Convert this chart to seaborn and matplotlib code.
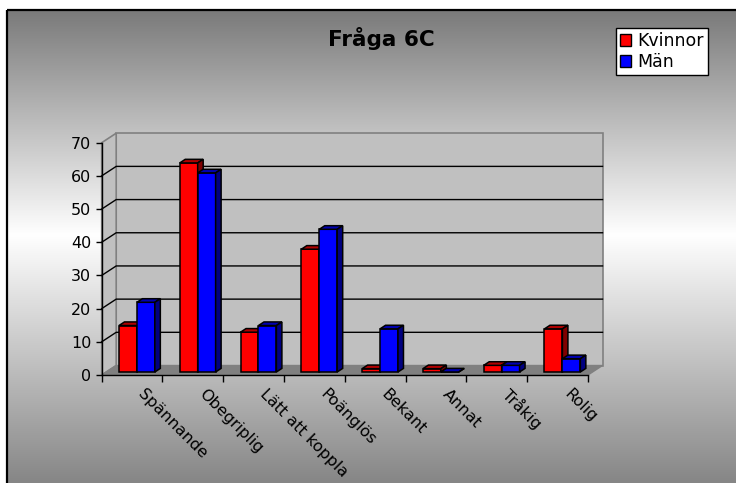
import numpy as np
import pandas as pd
import matplotlib
matplotlib.use("Agg")
import matplotlib.pyplot as plt
import seaborn as sns
from matplotlib.patches import Polygon, Patch

# ---- data -------------------------------------------------------------
categories = ["Spännande", "Obegriplig", "Lätt att koppla", "Poänglös",
              "Bekant", "Annat", "Tråkig", "Rolig"]
series = ["Kvinnor", "Män"]
kvinnor = [14, 63, 12, 37, 1, 1, 2, 13]
man = [21, 60, 14, 43, 13, 0, 2, 4]
y_ticks = [0, 10, 20, 30, 40, 50, 60, 70]
title = "Fråga 6C"

df = pd.DataFrame({
    "Kategori": categories * 2,
    "Serie": [series[0]] * len(categories) + [series[1]] * len(categories),
    "Antal": kvinnor + man,
})

front = {"Kvinnor": "#ff0000", "Män": "#0000ff"}
topc = {"Kvinnor": "#b00000", "Män": "#0000b0"}
sidec = {"Kvinnor": "#800000", "Män": "#000080"}

# ---- figure & gradient background ------------------------------------
W, H, DPI = 736, 483, 100
fig = plt.figure(figsize=(W / DPI, H / DPI), dpi=DPI)
fig.patch.set_facecolor("white")

bg = fig.add_axes([0, 0, 1, 1], zorder=-10)
ys = np.arange(10, H + 1, dtype=float)
g_top, g_mid, g_bot, y_mid = 122, 255, 134, 235
g = np.where(ys < y_mid,
             g_top + (g_mid - g_top) * (ys - 10) / (y_mid - 10),
             g_mid + (g_bot - g_mid) * (ys - y_mid) / (H - y_mid))
img = np.repeat((g / 255.0)[:, None], 3, axis=1)[:, None, :]
bg.imshow(img, extent=(7, W, H, 10), aspect="auto", interpolation="bilinear")
bg.plot([7, 7], [10, H], color="black", lw=1.6, solid_capstyle="butt")
bg.plot([7, W], [10, 10], color="black", lw=1.6, solid_capstyle="butt")
bg.set_xlim(0, W)
bg.set_ylim(H, 0)
bg.axis("off")

# ---- main axes --------------------------------------------------------
ax = fig.add_axes([101.7 / W, (H - 375) / H, 486.3 / W, 232.3 / H])
ax.patch.set_visible(False)

sns.barplot(data=df, x="Kategori", y="Antal", hue="Serie",
            order=categories, hue_order=series, palette=front,
            width=0.59, saturation=1, errorbar=None,
            edgecolor="black", linewidth=1.1, legend=False, ax=ax)
bars = list(ax.patches)

x0, x1 = -0.5, len(categories) - 0.5
ymax = y_ticks[-1]
ax.set_xlim(x0, x1)
ax.set_ylim(0, ymax)

# pixel -> data unit conversion for the depth effect
p0 = ax.transData.transform((0, 0))
p1 = ax.transData.transform((1, 1))
ppx, ppy = p1 - p0


def depth(dx, dy):
    return dx / ppx, dy / ppy


WDX, WDY = depth(14.5, 9.5)   # wall depth
BOX, BOY = depth(4.8, 3.0)    # bar front offset into the floor
BDX, BDY = depth(5.5, 3.6)    # bar depth

# back wall, side wall, floor
ax.add_patch(Polygon([(x0 + WDX, WDY), (x1 + WDX, WDY),
                      (x1 + WDX, ymax + WDY), (x0 + WDX, ymax + WDY)],
                     fc="#c0c0c0", ec="#808080", lw=1.2, zorder=0.5, clip_on=False))
ax.add_patch(Polygon([(x0, 0), (x0 + WDX, WDY), (x0 + WDX, ymax + WDY), (x0, ymax)],
                     fc="#c0c0c0", ec="#808080", lw=1.2, zorder=0.5, clip_on=False))
ax.add_patch(Polygon([(x0, 0), (x1, 0), (x1 + WDX, WDY), (x0 + WDX, WDY)],
                     fc="#808080", ec="#808080", lw=1.0, zorder=0.6, clip_on=False))
for v in y_ticks[1:-1]:
    ax.plot([x0, x0 + WDX, x1 + WDX], [v, v + WDY, v + WDY],
            color="black", lw=1.0, zorder=0.7, clip_on=False)

# 3D faces of each bar
for bar in bars:
    fc = bar.get_facecolor()
    name = "Män" if fc[2] > 0.5 else "Kvinnor"
    z = 4 if name == "Män" else 3
    x, y, w, h = bar.get_x(), bar.get_y(), bar.get_width(), bar.get_height()
    bx, by = x + BOX, y + BOY
    bar.set_x(bx)
    bar.set_y(by)
    bar.set_zorder(z)
    bar.set_clip_on(False)
    ax.add_patch(Polygon([(bx, by + h), (bx + w, by + h),
                          (bx + w + BDX, by + h + BDY), (bx + BDX, by + h + BDY)],
                         fc=topc[name], ec="black", lw=1.1, zorder=z, clip_on=False))
    ax.add_patch(Polygon([(bx + w, by), (bx + w + BDX, by + BDY),
                          (bx + w + BDX, by + h + BDY), (bx + w, by + h)],
                         fc=sidec[name], ec="black", lw=1.1, zorder=z, clip_on=False))

# axes, ticks, labels
for s in ("top", "right"):
    ax.spines[s].set_visible(False)
for s in ("left", "bottom"):
    ax.spines[s].set_color("black")
    ax.spines[s].set_linewidth(1)

ax.set_yticks(y_ticks)
ax.tick_params(axis="y", direction="out", length=4, width=1, pad=3.5,
               labelsize=11.5, colors="black")
ax.set_xticks(np.arange(len(categories)) + 14 / ppx)
ax.set_xticklabels(categories)
ax.set_xticks(np.arange(x0, x1 + 0.5, 1), minor=True)
ax.tick_params(axis="x", which="major", length=0, pad=8, labelsize=11.5)
ax.tick_params(axis="x", which="minor", length=5, width=1, direction="out")
for lab in ax.get_xticklabels():
    lab.set_rotation(-45)
    lab.set_ha("left")
    lab.set_va("top")
    lab.set_rotation_mode("anchor")
ax.set_xlabel("")
ax.set_ylabel("")

# legend and title
handles = [Patch(fc=front[s], ec="black", lw=1, label=s) for s in series]
leg = fig.legend(handles=handles, loc="upper left",
                 bbox_to_anchor=(616 / W, 1 - 28 / H), frameon=True,
                 fancybox=False, edgecolor="black", facecolor="white",
                 framealpha=1, fontsize=12.5, handlelength=0.65,
                 handleheight=0.65, handletextpad=0.35, borderpad=0.22,
                 labelspacing=0.18, borderaxespad=0)
leg.get_frame().set_linewidth(1)

fig.text(381 / W, 1 - 38 / H, title, ha="center", va="center",
         fontsize=15.5, fontweight="bold")

fig.savefig("out.png", dpi=DPI)
